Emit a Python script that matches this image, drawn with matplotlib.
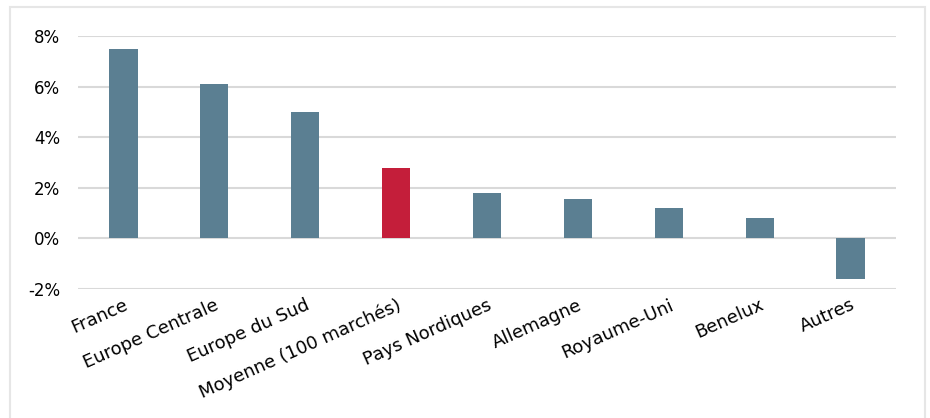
import matplotlib
matplotlib.use("Agg")
import matplotlib.pyplot as plt
from matplotlib.patches import Rectangle
from matplotlib.ticker import FuncFormatter

# Croissance par zone géographique
zones = ["France", "Europe Centrale", "Europe du Sud", "Moyenne (100 marchés)",
         "Pays Nordiques", "Allemagne", "Royaume-Uni", "Benelux", "Autres"]
croissance = [7.5, 6.1, 5.0, 2.8, 1.8, 1.55, 1.2, 0.8, -1.6]
couleurs = ["#5B7F92"] * 9
couleurs[3] = "#C41E3A"

plt.rcParams['font.family'] = ['DejaVu Sans']

fig = plt.figure(figsize=(9.3, 4.18), dpi=100)
ax = fig.add_axes([0.0839, 0.3086, 0.8795, 0.6053])

# cadre gris clair autour du graphique
fig.patches.append(Rectangle((10 / 930, -0.01), 915 / 930, 1 - 7 / 418 + 0.01,
                             transform=fig.transFigure, fill=False,
                             edgecolor="#E6E6E6", linewidth=1.5))

x = range(len(zones))
ax.bar(x, croissance, width=0.31, color=couleurs, zorder=3)

ax.set_xlim(-0.5, len(zones) - 0.5)
ax.set_ylim(-2, 8)
ax.set_yticks(range(-2, 9, 2))
ax.yaxis.set_major_formatter(FuncFormatter(lambda v, p: f"{v:.0f}%"))
ax.grid(axis="y", color="#D9D9D9", linewidth=1.5, zorder=0)
for s in ax.spines.values():
    s.set_visible(False)
ax.tick_params(axis="y", length=0, pad=13, labelsize=12, labelcolor="#000000")
ax.tick_params(axis="x", length=0, pad=5)
ax.set_xticks(list(x))
ax.set_xticklabels(zones, rotation=24, ha="right", rotation_mode="anchor",
                   fontsize=13)

fig.savefig("out.png", dpi=100, facecolor="white")
